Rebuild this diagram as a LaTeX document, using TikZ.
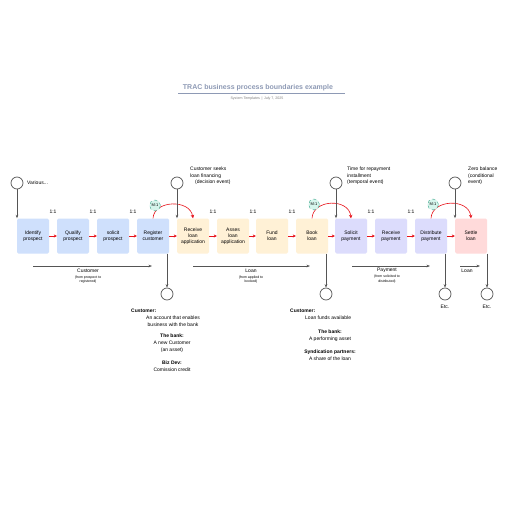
\documentclass[tikz,border=0pt]{standalone}
\usepackage{fontspec}
\setmainfont{Liberation Sans}
\usetikzlibrary{arrows.meta}
\definecolor{blueF}{HTML}{CFE0FC}
\definecolor{creamF}{HTML}{FFF1D6}
\definecolor{lavF}{HTML}{DCDCFC}
\definecolor{pinkF}{HTML}{FFDADA}
\definecolor{redA}{HTML}{E8141C}
\definecolor{grayL}{HTML}{555555}
\definecolor{titleC}{HTML}{8E9AB5}
\definecolor{tealF}{HTML}{D6F5EC}
\definecolor{tealD}{HTML}{3AA68A}
\tikzset{
  box/.style={rounded corners=1.5pt, minimum width=32pt, minimum height=35pt, inner sep=0pt, align=center, font=\fontsize{5}{6.2}\selectfont},
  redarrow/.style={draw=redA, line width=0.7pt, -{Stealth[length=3pt,width=3pt]}},
  redcurve/.style={draw=redA, line width=0.6pt, -{Stealth[length=3.5pt,width=3.5pt]}},
  grayarrow/.style={draw=grayL, line width=0.7pt, -{Stealth[length=3.5pt,width=2.6pt]}},
  evt/.style={circle, draw=grayL, line width=0.7pt, fill=white, minimum size=12pt, inner sep=0pt},
  mone/.style={circle, draw=tealD, dashed, line width=0.4pt, fill=tealF, minimum size=11pt, inner sep=0pt, font=\fontsize{4}{4}\selectfont},
  ratio/.style={font=\fontsize{5}{5}\selectfont},
  lbl/.style={font=\fontsize{5}{6.4}\selectfont, align=left, inner sep=0pt, anchor=west},
  flowlbl/.style={font=\fontsize{5}{6}\selectfont, align=center, inner sep=0pt},
  flowsub/.style={font=\fontsize{3.5}{4.6}\selectfont, align=center, inner sep=0pt},
  txt/.style={font=\fontsize{5}{6.8}\selectfont, inner sep=0pt, align=center},
  btxt/.style={font=\fontsize{5}{6.8}\selectfont\bfseries, inner sep=0pt, align=center}
}
\begin{document}
\begin{tikzpicture}[x=1pt,y=-1pt]
\fill[white] (0,0) rectangle (516,516);
\useasboundingbox (0,0) rectangle (516,516);
% title
\node[font=\fontsize{7}{7}\selectfont\bfseries, text=titleC, inner sep=0pt] (title) at (258,88) {TRAC business process boundaries example};
\draw[titleC, line width=0.6pt] (178,93) -- (345,93);
\node[font=\fontsize{3.6}{3.6}\selectfont, text=gray, inner sep=0pt] (sub) at (257,98.5) {System Templates \,|\, July 7, 2025};
% boxes
\node[box, fill=blueF] (b1) at (33,236) {Identify\\prospect};
\node[box, fill=blueF] (b2) at (73,236) {Qualify\\prospect};
\node[box, fill=blueF] (b3) at (113,236) {solicit\\prospect};
\node[box, fill=blueF] (b4) at (153,236) {Register\\customer};
\node[box, fill=creamF] (b5) at (193,236) {Receive\\loan\\application};
\node[box, fill=creamF] (b6) at (233,236) {Asses\\loan\\application};
\node[box, fill=creamF] (b7) at (272,236) {Fund\\loan};
\node[box, fill=creamF] (b8) at (312,236) {Book\\loan};
\node[box, fill=lavF] (b9) at (351,236) {Solicit\\payment};
\node[box, fill=lavF] (b10) at (391,236) {Receive\\payment};
\node[box, fill=lavF] (b11) at (431,236) {Distribute\\payment};
\node[box, fill=pinkF] (b12) at (471,236) {Settle\\loan};
% red arrows between boxes
\foreach \a/\b in {b1/b2,b2/b3,b3/b4,b4/b5,b5/b6,b6/b7,b7/b8,b8/b9,b9/b10,b10/b11,b11/b12}
  \draw[redarrow] (\a.east) -- (\b.west);
% ratios
\node[ratio] (r1) at (53,212) {1:1};
\node[ratio] (r2) at (93,212) {1:1};
\node[ratio] (r3) at (133,212) {1:1};
\node[ratio] (r4) at (213,212) {1:1};
\node[ratio] (r5) at (253,212) {1:1};
\node[ratio] (r6) at (292,212) {1:1};
\node[ratio] (r7) at (371,212) {1:1};
\node[ratio] (r8) at (411,212) {1:1};
% red curves with M:1
\draw[redcurve] (b4.north) .. controls (154,200) and (190,199) .. (b5.north);
\node[mone] (m1) at (155,205.5) {M:1};
\draw[redcurve] (b8.north) .. controls (313,199) and (349,198) .. (b9.north);
\node[mone] (m2) at (314,204.5) {M:1};
\draw[redcurve] (b11.north) .. controls (432,199) and (469,198) .. (b12.north);
\node[mone] (m3) at (433,204.5) {M:1};
% start events
\node[evt] (e1) at (17,183) {};
\node[evt] (e2) at (177,183) {};
\node[evt] (e3) at (336,183) {};
\node[evt] (e4) at (455,183) {};
\draw[grayarrow] (e1) -- (e1 |- b1.north);
\draw[grayarrow] (e2) -- (e2 |- b5.north);
\draw[grayarrow] (e3) -- (e3 |- b9.north);
\draw[grayarrow] (e4) -- (e4 |- b12.north);
\node[lbl] (l1) at (27,183) {Various...};
\node[lbl] (l2) at (190,176) {Customer seeks\\loan financing\\\hspace*{5pt}(decision event)};
\node[lbl] (l3) at (347,176) {Time for repayment\\installment\\(temporal event)};
\node[lbl] (l4) at (468,176) {Zero balance\\(conditional\\event)};
% end events
\node[evt] (c1) at (167,294) {};
\node[evt] (c2) at (326,294) {};
\node[evt] (c3) at (445,294) {};
\node[evt] (c4) at (487,294) {};
\draw[grayarrow] (c1 |- b4.south) -- (c1);
\draw[grayarrow] (c2 |- b8.south) -- (c2);
\draw[grayarrow] (c3 |- b11.south) -- (c3);
\draw[grayarrow] (c4 |- b12.south) -- (c4);
\node[txt] (etc1) at (445,306.5) {Etc.};
\node[txt] (etc2) at (487,306.5) {Etc.};
% flow arrows
\coordinate (f1s) at (33,266); \coordinate (f1e) at (152,266);
\coordinate (f2s) at (193,266); \coordinate (f2e) at (310,266);
\coordinate (f3s) at (352,266); \coordinate (f3e) at (430,266);
\coordinate (f4s) at (460,266); \coordinate (f4e) at (480,266);
\draw[grayarrow] (f1s) -- (f1e);
\draw[grayarrow] (f2s) -- (f2e);
\draw[grayarrow] (f3s) -- (f3e);
\draw[grayarrow] (f4s) -- (f4e);
\node[flowlbl] (fl1) at (88,271) {Customer};
\node[flowsub] (fs1) at (88,279.5) {(from prospect to\\registered)};
\node[flowlbl] (fl2) at (251,271) {Loan};
\node[flowsub] (fs2) at (251,279.5) {(from applied to\\booked)};
\node[flowlbl] (fl3) at (387,270.5) {Payment};
\node[flowsub] (fs3) at (387,279) {(from solicited to\\distributed)};
\node[flowlbl] (fl4) at (467,270.5) {Loan};
% text block 1
\node[btxt, anchor=west] (t1) at (131,311) {Customer:};
\node[txt] (t2) at (173,321.5) {An account that enables\\business with the bank};
\node[btxt] (t3) at (172,336) {The bank:};
\node[txt] (t4) at (172,346.5) {A new Customer\\(an asset)};
\node[btxt] (t5) at (172,363) {Biz Dev:};
\node[txt] (t6) at (172,370) {Comission credit};
% text block 2
\node[btxt, anchor=west] (u1) at (290,311) {Customer:};
\node[txt, anchor=west] (u2) at (305,318) {Loan funds available};
\node[btxt] (u3) at (330,332) {The bank:};
\node[txt] (u4) at (330,339) {A performing asset};
\node[btxt] (u5) at (330,352) {Syndication partners:};
\node[txt] (u6) at (330,359) {A share of the loan};
\end{tikzpicture}
\end{document}
